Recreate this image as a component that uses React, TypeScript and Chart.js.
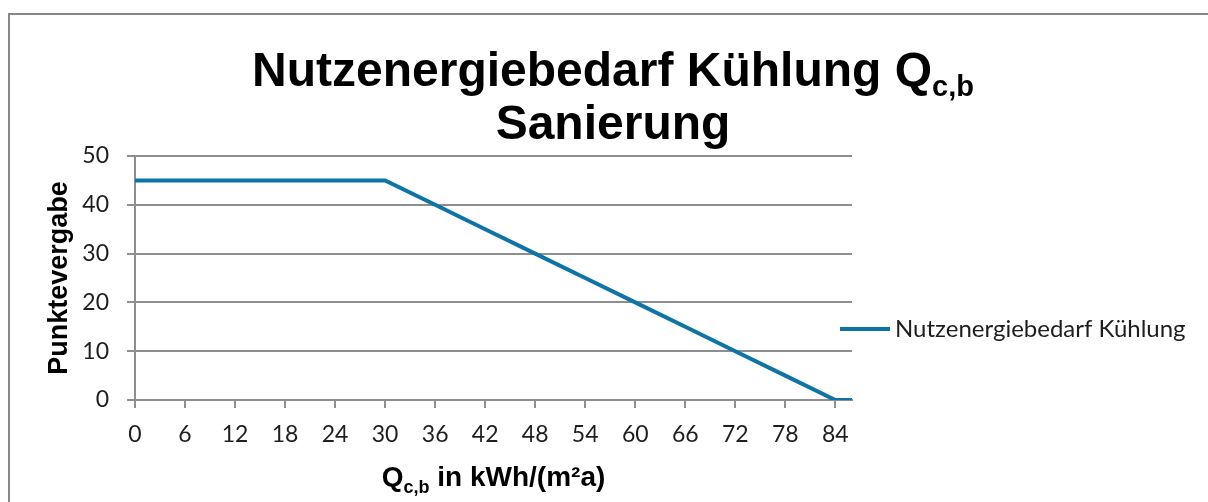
import React, { useEffect, useRef } from "react";
import { Chart, registerables } from "chart.js";

Chart.register(...registerables);

// ---- data ----
const qValues = [0, 30, 36, 42, 48, 54, 60, 66, 72, 78, 84, 86];
const pointValues = [45, 45, 40, 35, 30, 25, 20, 15, 10, 5, 0, 0];
const xMin = 0;
const xMax = 86;
const xStep = 6;
const yMin = 0;
const yMax = 50;
const yStep = 10;
const seriesLabel = "Nutzenergiebedarf Kühlung";
const titleLine1 = "Nutzenergiebedarf Kühlung Q";
const titleSub = "c,b";
const titleLine2 = "Sanierung";
const xTitleMain = "Q";
const xTitleSub = "c,b";
const xTitleRest = " in kWh/(m²a)";
const yTitle = "Punktevergabe";

const LINE_COLOR = "#0E74A6";
const GRID_COLOR = "#8E8E8E";
const TEXT_COLOR = "#1e1e1e";
const SANS = "'Liberation Sans', Arial, sans-serif";
const TICK_FONT = "Lato, 'Open Sans', sans-serif";

type Part = { text: string; font: string; dy: number };

function drawParts(ctx: CanvasRenderingContext2D, parts: Part[], cx: number, baseline: number) {
  let total = 0;
  const widths = parts.map((p) => {
    ctx.font = p.font;
    const w = ctx.measureText(p.text).width;
    total += w;
    return w;
  });
  let x = cx - total / 2;
  ctx.textAlign = "left";
  ctx.textBaseline = "alphabetic";
  parts.forEach((p, i) => {
    ctx.font = p.font;
    ctx.fillText(p.text, x, baseline + p.dy);
    x += widths[i];
  });
}

const decorPlugin = {
  id: "decor",
  beforeDraw(chart: any) {
    const ctx = chart.ctx as CanvasRenderingContext2D;
    ctx.save();
    ctx.fillStyle = "#ffffff";
    ctx.fillRect(0, 0, chart.width, chart.height);
    ctx.fillStyle = "#878787";
    // frame: left and top edges (the rest lies outside the picture)
    ctx.fillRect(8, 13, 2, chart.height - 13);
    ctx.fillRect(8, 13, chart.width - 8, 2);
    ctx.restore();
  },
  afterDraw(chart: any) {
    const ctx = chart.ctx as CanvasRenderingContext2D;
    const area = chart.chartArea;
    ctx.save();
    ctx.fillStyle = "#000000";
    // main title
    drawParts(
      ctx,
      [
        { text: titleLine1, font: `bold 48px ${SANS}`, dy: 0 },
        { text: titleSub, font: `bold 29px ${SANS}`, dy: 10 },
      ],
      613,
      86
    );
    drawParts(ctx, [{ text: titleLine2, font: `bold 48px ${SANS}`, dy: 0 }], 613, 139);

    // x title
    drawParts(
      ctx,
      [
        { text: xTitleMain, font: `bold 28px ${SANS}`, dy: 0 },
        { text: xTitleSub, font: `bold 18px ${SANS}`, dy: 7 },
        { text: xTitleRest, font: `bold 28px ${SANS}`, dy: 0 },
      ],
      (area.left + area.right) / 2,
      486
    );

    // y title
    ctx.save();
    ctx.translate(67, (area.top + area.bottom) / 2);
    ctx.rotate(-Math.PI / 2);
    ctx.font = `bold 27px ${SANS}`;
    ctx.textAlign = "center";
    ctx.textBaseline = "alphabetic";
    ctx.fillText(yTitle, 0, 0);
    ctx.restore();

    // legend
    const ds = chart.data.datasets[0];
    ctx.strokeStyle = ds.borderColor;
    ctx.lineWidth = 4;
    ctx.beginPath();
    ctx.moveTo(840, 329);
    ctx.lineTo(890, 329);
    ctx.stroke();
    ctx.fillStyle = TEXT_COLOR;
    ctx.font = `24px ${TICK_FONT}`;
    ctx.textAlign = "left";
    ctx.textBaseline = "middle";
    ctx.fillText(ds.label, 895, 329);
    ctx.restore();
  },
};

export default function App() {
  const ref = useRef<HTMLCanvasElement | null>(null);

  useEffect(() => {
    if (!ref.current) return;
    const data = qValues.map((q, i) => ({ x: q, y: pointValues[i] }));
    const chart = new Chart(ref.current, {
      type: "line",
      data: {
        datasets: [
          {
            label: seriesLabel,
            data,
            borderColor: LINE_COLOR,
            backgroundColor: LINE_COLOR,
            borderWidth: 4,
            pointRadius: 0,
            tension: 0,
          },
        ],
      },
      options: {
        responsive: false,
        animation: false,
        devicePixelRatio: 1,
        layout: { padding: { left: 0, top: 156, right: 356, bottom: 0 } },
        plugins: {
          legend: { display: false },
          title: { display: false },
          tooltip: { enabled: false },
        },
        scales: {
          x: {
            type: "linear",
            min: xMin,
            max: xMax,
            afterFit: (s: any) => {
              s.height = 102;
            },
            ticks: {
              stepSize: xStep,
              includeBounds: false,
              padding: 13,
              color: TEXT_COLOR,
              font: { family: TICK_FONT, size: 23 },
              maxRotation: 0,
              autoSkip: false,
            },
            grid: {
              display: true,
              drawOnChartArea: false,
              drawTicks: true,
              tickLength: 8,
              color: GRID_COLOR,
              lineWidth: 2,
            },
            border: { display: true, color: GRID_COLOR, width: 2 },
          },
          y: {
            type: "linear",
            min: yMin,
            max: yMax,
            afterFit: (s: any) => {
              s.width = 135;
            },
            ticks: {
              stepSize: yStep,
              padding: 18,
              color: TEXT_COLOR,
              font: { family: TICK_FONT, size: 23 },
            },
            grid: {
              display: true,
              drawOnChartArea: true,
              drawTicks: true,
              tickLength: 8,
              color: GRID_COLOR,
              lineWidth: 2,
            },
            border: { display: true, color: GRID_COLOR, width: 2 },
          },
        },
      } as any,
      plugins: [decorPlugin],
    });
    return () => chart.destroy();
  }, []);

  return (
    <div style={{ position: "fixed", left: 0, top: 0, width: 1208, height: 502, background: "#fff" }}>
      <canvas ref={ref} width={1208} height={502} style={{ display: "block" }} />
    </div>
  );
}
